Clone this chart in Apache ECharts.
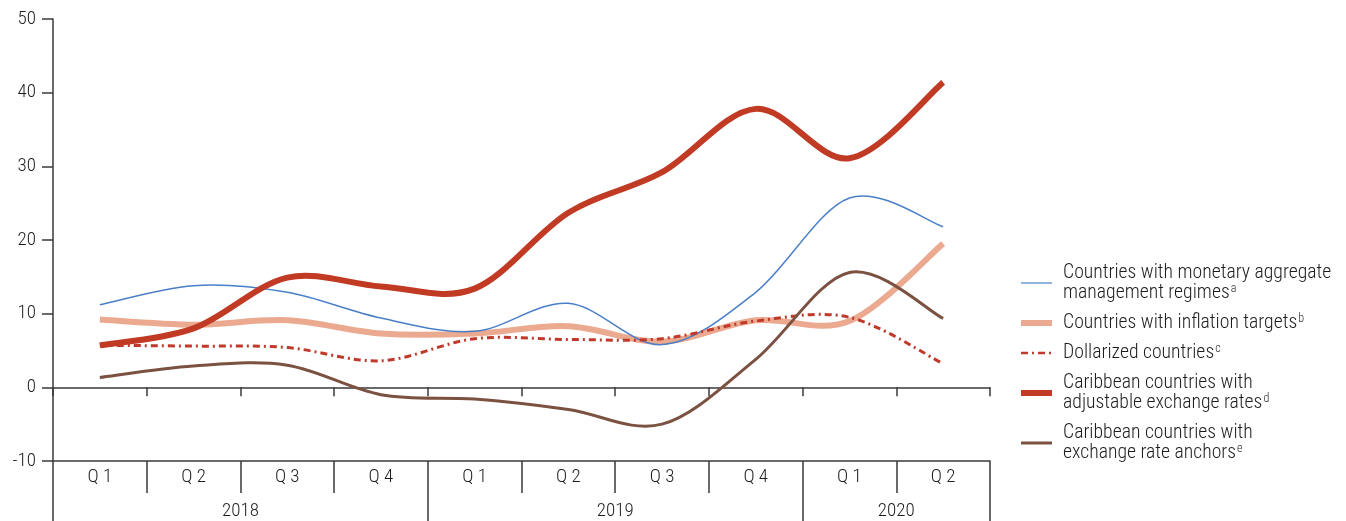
<!DOCTYPE html>
<html>
<head>
<meta charset="utf-8">
<style>
  html, body { margin: 0; padding: 0; background: #ffffff; }
  #chart { width: 1346px; height: 521px; }
</style>
<script src="https://cdn.jsdelivr.net/npm/echarts@6/dist/echarts.min.js"></script>
</head>
<body>
<div id="chart"></div>
<script>
// Quarterly periods and their printed labels
const categories = ['2018 Q1', '2018 Q2', '2018 Q3', '2018 Q4', '2019 Q1', '2019 Q2', '2019 Q3', '2019 Q4', '2020 Q1', '2020 Q2'];
const quarterLabels = ['Q 1', 'Q 2', 'Q 3', 'Q 4', 'Q 1', 'Q 2', 'Q 3', 'Q 4', 'Q 1', 'Q 2'];
const years = ['2018', '2019', '2020'];
const quartersPerYear = [4, 4, 2];

// Value axis ticks
const yTicks = [-10, 0, 10, 20, 30, 40, 50];

// Series values (percentages)
const monetaryAggregate = [11.2, 13.8, 12.9, 9.4, 7.6, 11.4, 5.8, 12.9, 25.7, 21.8];
const inflationTargets = [9.2, 8.5, 9.1, 7.3, 7.3, 8.3, 6.2, 9.1, 9.0, 19.5];
const dollarized = [5.7, 5.6, 5.4, 3.6, 6.6, 6.5, 6.6, 9.0, 9.5, 3.2];
const caribbeanAdjustable = [5.7, 8.0, 14.9, 13.7, 13.4, 23.7, 29.2, 37.8, 31.1, 41.4];
const caribbeanAnchors = [1.35, 2.9, 3.0, -1.0, -1.6, -3.0, -5.0, 3.8, 15.6, 9.35];

// Series names and footnote marks
const names = [
  'Countries with monetary aggregate management regimes',
  'Countries with inflation targets',
  'Dollarized countries',
  'Caribbean countries with adjustable exchange rates',
  'Caribbean countries with exchange rate anchors'
];
const legendLines = [
  ['Countries with monetary aggregate', 'management regimes'],
  ['Countries with inflation targets'],
  ['Dollarized countries'],
  ['Caribbean countries with', 'adjustable exchange rates'],
  ['Caribbean countries with', 'exchange rate anchors']
];
const footnotes = ['a', 'b', 'c', 'd', 'e'];

// Pick a narrow face when one is installed, otherwise a regular sans
function hasFont(family) {
  const ctx = document.createElement('canvas').getContext('2d');
  const probe = 'Countries with monetary aggregate';
  ctx.font = '40px monospace';
  const base = ctx.measureText(probe).width;
  ctx.font = "40px '" + family + "', monospace";
  return ctx.measureText(probe).width !== base;
}
const narrow = ['Roboto Condensed', 'Liberation Sans Narrow', 'Arial Narrow'].find(hasFont);
const FONT = narrow ? "'" + narrow + "', sans-serif" : "'Liberation Sans', Arial, sans-serif";
const WEIGHT = 300;
const AXIS_FONT_SIZE = narrow ? 19 : 18;

// Legend text size so the longest line spans about 268px
const LEGEND_FONT_SIZE = (function () {
  const ctx = document.createElement('canvas').getContext('2d');
  ctx.font = WEIGHT + ' 20px ' + FONT;
  const w = ctx.measureText(legendLines[0][0]).width;
  return Math.min(20, Math.round(20 * 268 / w * 10) / 10);
})();

const INK = '#1f1c1d';
const AXIS = '#3a3a3a';

// Year boundaries and centres in quarter units along the bottom band
const yearBounds = [0];
quartersPerYear.forEach(n => yearBounds.push(yearBounds[yearBounds.length - 1] + n));
const yearCentres = years.map((y, i) => (yearBounds[i] + yearBounds[i + 1]) / 2);

const colors = ['#4a7fc8', '#eba98f', '#c0392b', '#c03a24', '#7b5141'];
const widths = [1.5, 6, 3, 6, 3];
const legendWidths = [1.2, 6, 2.5, 6, 3];
const dataSets = [monetaryAggregate, inflationTargets, dollarized, caribbeanAdjustable, caribbeanAnchors];
const lineDashes = [null, null, [7, 4, 2, 4], null, null];
// drawing order: the wide salmon band sits underneath
const drawOrder = [1, 0, 2, 3, 4];

// Smooth curve through the projected points (Catmull-Rom as cubic Béziers)
function curvePath(pts) {
  let d = 'M' + pts[0][0] + ',' + pts[0][1];
  for (let k = 0; k < pts.length - 1; k++) {
    const p0 = pts[k - 1] || pts[k];
    const p1 = pts[k];
    const p2 = pts[k + 1];
    const p3 = pts[k + 2] || pts[k + 1];
    const c1x = p1[0] + (p2[0] - p0[0]) / 6, c1y = p1[1] + (p2[1] - p0[1]) / 6;
    const c2x = p2[0] - (p3[0] - p1[0]) / 6, c2y = p2[1] - (p3[1] - p1[1]) / 6;
    d += 'C' + c1x + ',' + c1y + ',' + c2x + ',' + c2y + ',' + p2[0] + ',' + p2[1];
  }
  return d;
}

function curveSeries(i) {
  const values = dataSets[i];
  return {
    type: 'custom',
    xAxisIndex: 0,
    yAxisIndex: 0,
    z: 10 + drawOrder.indexOf(i),
    clip: false,
    silent: true,
    data: values.map((v, k) => [k, v]),
    renderItem: function (params, api) {
      if (params.dataIndex !== 0) return null;
      const pts = values.map((v, k) => api.coord([k, v]));
      return {
        type: 'path',
        shape: { pathData: curvePath(pts) },
        style: {
          fill: 'none',
          stroke: colors[i],
          lineWidth: widths[i],
          lineDash: lineDashes[i] || null,
          lineCap: 'butt',
          lineJoin: 'round'
        }
      };
    }
  };
}

// Line series carry the legend entries; the curves above draw the visible lines
function legendSeries(i) {
  return {
    name: names[i],
    type: 'line',
    xAxisIndex: 0,
    yAxisIndex: 0,
    data: dataSets[i],
    symbol: 'none',
    silent: true,
    z: 1,
    itemStyle: { color: colors[i] },
    lineStyle: { color: colors[i], width: widths[i], type: lineDashes[i] || 'solid', opacity: 0 },
    emphasis: { disabled: true }
  };
}

const chart = echarts.init(document.getElementById('chart'), null, { renderer: 'canvas' });

const axisText = { fontFamily: FONT, fontWeight: WEIGHT, fontSize: AXIS_FONT_SIZE, color: INK };

chart.setOption({
  animation: false,
  backgroundColor: '#ffffff',
  textStyle: { fontFamily: FONT, fontWeight: WEIGHT, color: INK },
  grid: { left: 53, right: 356, top: 19, bottom: 60, containLabel: false },
  legend: {
    orient: 'vertical',
    left: 1018,
    top: 263,
    padding: 0,
    itemWidth: 31,
    itemHeight: 14,
    itemGap: 10,
    selectedMode: false,
    itemStyle: { opacity: 0 },
    textStyle: {
      fontFamily: FONT,
      fontWeight: WEIGHT,
      fontSize: LEGEND_FONT_SIZE,
      color: INK,
      padding: [0, 0, 0, 6],
      rich: {
        t: { fontFamily: FONT, fontWeight: WEIGHT, fontSize: LEGEND_FONT_SIZE, lineHeight: 20, color: INK },
        s: { fontFamily: FONT, fontWeight: WEIGHT, fontSize: 12, lineHeight: 10, color: INK, verticalAlign: 'top', padding: [0, 0, 0, 1] }
      }
    },
    formatter: function (name) {
      const i = names.indexOf(name);
      const lines = legendLines[i].map(l => '{t|' + l + '}');
      lines[lines.length - 1] += '{s|' + footnotes[i] + '}';
      return lines.join('\n');
    },
    data: names.map((n, i) => ({ name: n, lineStyle: { width: legendWidths[i], opacity: 1 } }))
  },
  xAxis: [
    {
      // axis through zero with small boundary ticks
      type: 'category',
      data: categories,
      boundaryGap: true,
      position: 'bottom',
      axisLine: { onZero: true, lineStyle: { color: AXIS, width: 1.5 } },
      axisTick: { show: true, inside: false, length: 9, lineStyle: { color: AXIS, width: 1.5 } },
      axisLabel: { show: false },
      splitLine: { show: false }
    },
    {
      // quarter row of the period table
      type: 'category',
      data: categories,
      boundaryGap: true,
      position: 'bottom',
      axisLine: { onZero: false, lineStyle: { color: AXIS, width: 1.5 } },
      axisTick: { show: true, inside: false, length: 32, lineStyle: { color: AXIS, width: 1.5 } },
      axisLabel: Object.assign({ show: true, margin: 7, formatter: (v, i) => quarterLabels[i] }, axisText),
      splitLine: { show: false }
    },
    {
      // year row of the period table
      type: 'value',
      min: 0,
      max: categories.length,
      position: 'bottom',
      axisLine: { show: false, onZero: false },
      axisTick: { show: true, inside: false, length: 60, customValues: yearBounds, lineStyle: { color: AXIS, width: 1.5 } },
      axisLabel: Object.assign({
        show: true, margin: 41,
        customValues: yearCentres,
        formatter: v => years[yearCentres.indexOf(v)]
      }, axisText),
      splitLine: { show: false }
    }
  ],
  yAxis: {
    type: 'value',
    min: yTicks[0],
    max: yTicks[yTicks.length - 1],
    interval: 10,
    axisLine: { show: true, lineStyle: { color: AXIS, width: 1.5 } },
    axisTick: { show: true, inside: false, length: 11, lineStyle: { color: AXIS, width: 1.5 } },
    axisLabel: Object.assign({ margin: 17 }, axisText),
    splitLine: { show: false }
  },
  series: names.map((n, i) => legendSeries(i)).concat(drawOrder.map(i => curveSeries(i)))
});
</script>
</body>
</html>
